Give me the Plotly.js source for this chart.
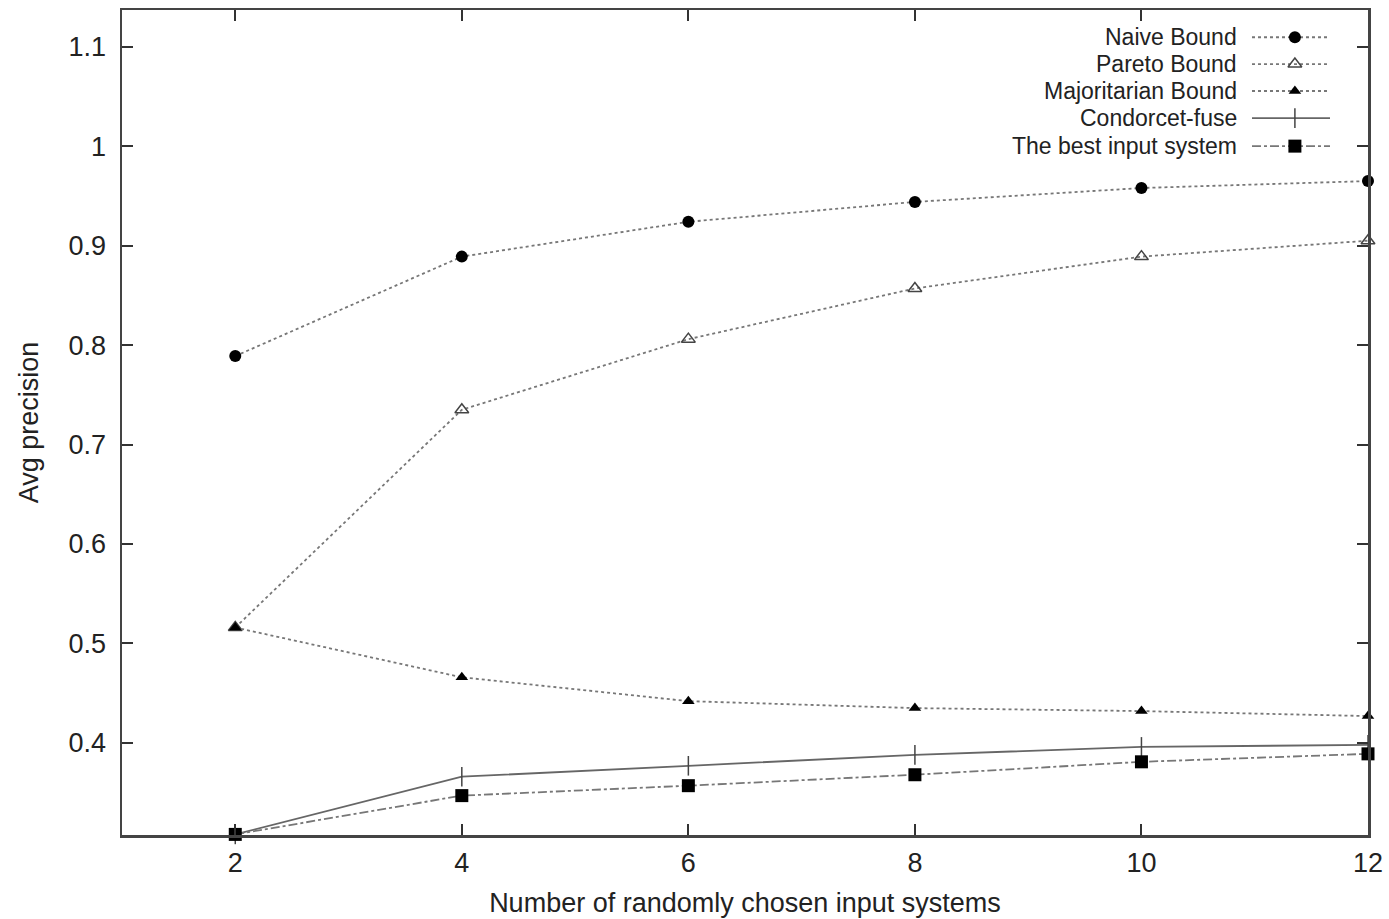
<!DOCTYPE html>
<html>
<head>
<meta charset="utf-8">
<script src="https://cdn.plot.ly/plotly-3.0.1.min.js"></script>
<style>html,body{margin:0;padding:0;background:#fff;}#chart{width:1389px;height:919px;}</style>
</head>
<body>
<div id="chart"></div>
<script>
var xValues = [2, 4, 6, 8, 10, 12];
var naiveBound = [0.789, 0.889, 0.924, 0.944, 0.958, 0.965];
var paretoBound = [0.516, 0.735, 0.806, 0.857, 0.889, 0.905];
var majoritarianBound = [0.516, 0.466, 0.442, 0.435, 0.432, 0.427];
var condorcetFuse = [0.308, 0.366, 0.377, 0.388, 0.396, 0.398];
var bestInput = [0.308, 0.347, 0.357, 0.368, 0.381, 0.389];
var seriesNames = ["Naive Bound", "Pareto Bound", "Majoritarian Bound", "Condorcet-fuse", "The best input system"];
var yTicks = [0.4, 0.5, 0.6, 0.7, 0.8, 0.9, 1, 1.1];
var yTickText = ["0.4", "0.5", "0.6", "0.7", "0.8", "0.9", "1", "1.1"];
var xTicks = [2, 4, 6, 8, 10, 12];

var FONT = "Liberation Sans, Arial, sans-serif";
var styles = [
  {dash: "dot", lc: "#777", sym: "circle", ms: 12, mc: "#000", ml: 0},
  {dash: "dot", lc: "#777", sym: "triangle-up-open", ms: 12, mc: "#444", ml: 1.5},
  {dash: "dot", lc: "#777", sym: "triangle-up", ms: 11, mc: "#000", ml: 0},
  {dash: "solid", lc: "#666", sym: "line-ns", ms: 14, mc: "#444", ml: 1.5},
  {dash: "dashdot", lc: "#777", sym: "square", ms: 13, mc: "#000", ml: 0}
];
var seriesData = [naiveBound, paretoBound, majoritarianBound, condorcetFuse, bestInput];

var traces = [];
seriesData.forEach(function (ys, i) {
  var s = styles[i];
  traces.push({
    x: xValues, y: ys, type: "scatter", mode: "lines+markers", name: seriesNames[i],
    showlegend: false, cliponaxis: false,
    line: {color: s.lc, width: 1.8, dash: s.dash},
    marker: {symbol: s.sym, size: s.ms, color: s.mc, line: {color: s.mc, width: s.ml}}
  });
});

// custom legend (text on the left, sample on the right) on a small separate axis
var legY = [0.967, 0.9345, 0.9018, 0.869, 0.835];
var annotations = [];
seriesNames.forEach(function (n, i) {
  var s = styles[i];
  traces.push({
    x: [0.0, 0.55, 1.0], y: [legY[i], legY[i], legY[i]], xaxis: "x2", yaxis: "y2",
    type: "scatter", mode: "lines", showlegend: false, hoverinfo: "skip", cliponaxis: false,
    line: {color: s.lc, width: 1.8, dash: s.dash}
  });
  traces.push({
    x: [0.55], y: [legY[i]], xaxis: "x2", yaxis: "y2",
    type: "scatter", mode: "markers", showlegend: false, hoverinfo: "skip", cliponaxis: false,
    marker: {symbol: s.sym, size: s.ms, color: s.mc, line: {color: s.mc, width: s.ml}}
  });
  annotations.push({
    xref: "paper", yref: "paper", x: 0.8957, y: legY[i], xanchor: "right", yanchor: "middle",
    text: n, showarrow: false, borderpad: 0,
    font: {family: FONT, size: 23, color: "#222"}
  });
});

var layout = {
  width: 1389, height: 919,
  margin: {l: 122, r: 21, t: 10, b: 84},
  paper_bgcolor: "#fff", plot_bgcolor: "rgba(0,0,0,0)",
  font: {family: FONT, size: 27, color: "#222"},
  xaxis: {
    domain: [0, 1],
    range: [1, 12], tickvals: xTicks, ticktext: xTicks.map(String),
    ticks: "inside", ticklen: 11, tickwidth: 2, tickcolor: "#333",
    showline: true, linecolor: "#444", linewidth: 2.5, mirror: "ticks",
    showgrid: false, zeroline: false, ticklabelstandoff: 2,
    tickfont: {family: FONT, size: 27, color: "#222"},
    title: {text: "Number of randomly chosen input systems", font: {family: FONT, size: 27, color: "#222"}, standoff: 16}
  },
  yaxis: {
    domain: [0, 1],
    range: [0.3074, 1.137], tickvals: yTicks, ticktext: yTickText,
    ticks: "inside", ticklen: 11, tickwidth: 2, tickcolor: "#333",
    showline: true, linecolor: "#444", linewidth: 2.5, mirror: "ticks",
    showgrid: false, zeroline: false, ticklabelstandoff: 8,
    tickfont: {family: FONT, size: 27, color: "#222"},
    title: {text: "Avg precision", font: {family: FONT, size: 27, color: "#222"}, standoff: 22}
  },
  xaxis2: {domain: [0.9069, 0.9695], range: [0, 1], anchor: "y2", visible: false, fixedrange: true, showgrid: false, zeroline: false},
  yaxis2: {domain: [0, 1], range: [0, 1], anchor: "x2", visible: false, fixedrange: true, showgrid: false, zeroline: false},
  annotations: annotations,
  showlegend: false
};

Plotly.newPlot("chart", traces, layout, {displayModeBar: false, staticPlot: true});
</script>
</body>
</html>
